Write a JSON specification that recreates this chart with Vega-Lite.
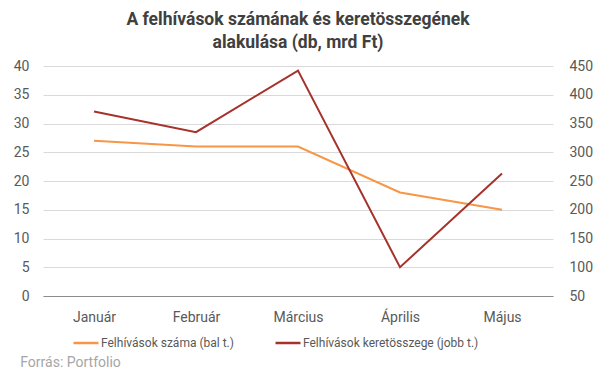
{
  "$schema": "https://vega.github.io/schema/vega-lite/v6.json",
  "background": "white",
  "padding": {"left": 13, "right": 5, "top": 10, "bottom": 5},
  "title": {
    "text": "Forrás: Portfolio",
    "orient": "bottom",
    "anchor": "start",
    "frame": "bounds",
    "font": "Roboto",
    "fontSize": 14,
    "fontWeight": "normal",
    "color": "#a6a6a6",
    "offset": 7,
    "dx": 7
  },
  "vconcat": [
    {
      "title": {
        "text": ["A felhívások számának és keretösszegének", "alakulása (db, mrd Ft)"],
        "font": "Roboto",
        "fontSize": 17.5,
        "fontWeight": "bold",
        "color": "#404040",
        "lineHeight": 23,
        "anchor": "middle",
        "offset": 8
      },
      "width": 510,
      "height": 230,
      "data": {
        "values": [
          {"honap": "Január", "szam": 27, "keret": 371},
          {"honap": "Február", "szam": 26, "keret": 335},
          {"honap": "Március", "szam": 26, "keret": 442},
          {"honap": "Április", "szam": 18, "keret": 100},
          {"honap": "Május", "szam": 15, "keret": 263}
        ]
      },
      "encoding": {
        "x": {
          "field": "honap",
          "type": "nominal",
          "sort": null,
          "scale": {"type": "point", "padding": 0.5},
          "axis": {
            "title": null,
            "labelAngle": 0,
            "labelFont": "Roboto",
            "labelFontSize": 14,
            "labelColor": "#595959",
            "labelPadding": 14,
            "ticks": false,
            "domain": true,
            "domainColor": "#8c8c8c",
            "domainWidth": 1,
            "grid": false
          }
        }
      },
      "layer": [
        {
          "mark": {"type": "line", "strokeWidth": 2},
          "encoding": {
            "y": {
              "field": "szam",
              "type": "quantitative",
              "scale": {"domain": [0, 40]},
              "axis": {
                "orient": "left",
                "title": null,
                "values": [0, 5, 10, 15, 20, 25, 30, 35, 40],
                "labelFont": "Roboto",
                "labelFontSize": 14,
                "labelColor": "#595959",
                "labelPadding": 14,
                "ticks": false,
                "domain": false,
                "grid": true,
                "gridColor": "#d9d9d9",
                "gridWidth": 1
              }
            },
            "color": {
              "datum": "Felhívások száma (bal t.)",
              "scale": {
                "domain": ["Felhívások száma (bal t.)", "Felhívások keretösszege (jobb t.)"],
                "range": ["#F79646", "#A5322B"]
              },
              "legend": {
                "orient": "none",
                "legendX": 29,
                "legendY": 263,
                "direction": "horizontal",
                "title": null,
                "symbolType": "stroke",
                "symbolSize": 625,
                "symbolStrokeWidth": 2.5,
                "labelFont": "Roboto",
                "labelFontSize": 12,
                "labelColor": "#595959",
                "labelLimit": 400,
                "labelOffset": 1,
                "columnPadding": 36
              }
            }
          }
        },
        {
          "mark": {"type": "line", "strokeWidth": 2},
          "encoding": {
            "y": {
              "field": "keret",
              "type": "quantitative",
              "scale": {"domain": [50, 450]},
              "axis": {
                "orient": "right",
                "title": null,
                "values": [50, 100, 150, 200, 250, 300, 350, 400, 450],
                "labelFont": "Roboto",
                "labelFontSize": 14,
                "labelColor": "#595959",
                "labelPadding": 16,
                "ticks": false,
                "domain": false,
                "grid": false
              }
            },
            "color": {"datum": "Felhívások keretösszege (jobb t.)"}
          }
        }
      ],
      "resolve": {"scale": {"y": "independent"}}
    }
  ],
  "config": {
    "view": {"stroke": null},
    "font": "Roboto"
  }
}
